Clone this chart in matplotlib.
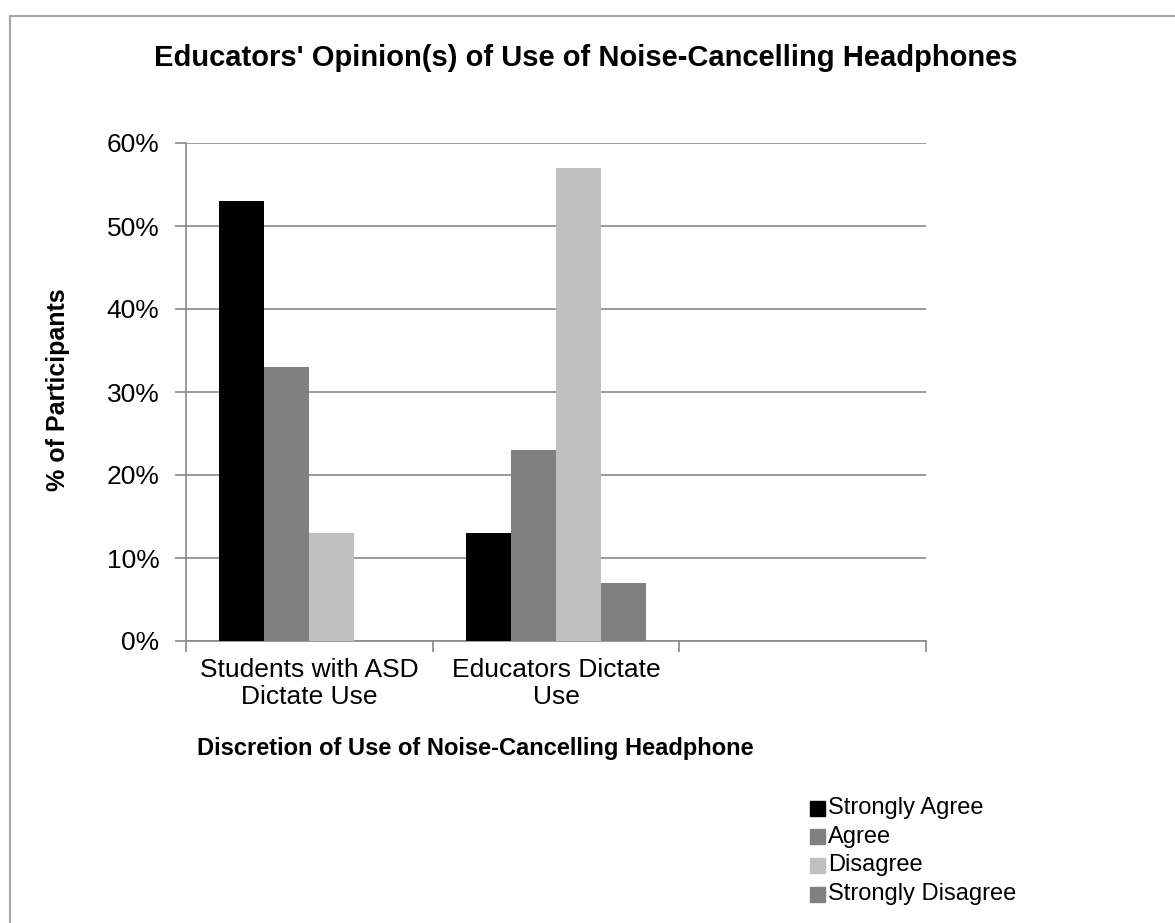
import numpy as np
import matplotlib.pyplot as plt
from matplotlib.patches import Rectangle

plt.rcParams['font.family'] = ['Liberation Sans', 'DejaVu Sans']

# survey results, % of participants
categories = ['Students with ASD\nDictate Use', 'Educators Dictate\nUse', '']
series = ['Strongly Agree', 'Agree', 'Disagree', 'Strongly Disagree']
strongly_agree = [53, 13, 0]
agree = [33, 23, 0]
disagree = [13, 57, 0]
strongly_disagree = [0, 7, 0]
colors = ['#000000', '#808080', '#c0c0c0', '#808080']

W, H = 1175, 923
fig = plt.figure(figsize=(W / 100, H / 100), dpi=100)

# outer chart frame (runs off the right/bottom edge)
fig.patches.append(Rectangle((10 / W, -0.1), 1.2, 1 - 16 / H + 0.1, transform=fig.transFigure,
                             fill=False, edgecolor='#a6a6a6', linewidth=1.5))

ax = fig.add_axes([186 / W, (H - 641) / H, 740 / W, 498 / H])

x = np.arange(len(categories))
w = 45 / 247
vals = [strongly_agree, agree, disagree, strongly_disagree]
for i, (name, v) in enumerate(zip(series, vals)):
    ax.bar(x + (i - 1.5) * w, v, width=w, color=colors[i], label=name, zorder=3)

ax.set_xlim(-0.5, 2.5)
ax.set_ylim(0, 60)
ax.set_yticks(range(0, 61, 10))
ax.set_yticklabels(['%d%%' % t for t in range(0, 61, 10)], fontsize=19)
ax.yaxis.grid(True, color='#898989', linewidth=1.2, zorder=0)

ax.set_xticks(x)
ax.set_xticklabels(categories, fontsize=19)
ax.set_xticks(np.arange(-0.5, 2.6, 1), minor=True)
ax.tick_params(axis='x', which='major', length=0, pad=12)
ax.tick_params(axis='x', which='minor', length=8, color='#898989', width=1.2)
ax.tick_params(axis='y', length=8, color='#898989', width=1.2, pad=11)

for s in ['top', 'right']:
    ax.spines[s].set_visible(False)
for s in ['left', 'bottom']:
    ax.spines[s].set_color('#898989')
    ax.spines[s].set_linewidth(1.2)

fig.text(586 / W, 1 - 58 / H, "Educators' Opinion(s) of Use of Noise-Cancelling Headphones",
         ha='center', va='center', fontsize=21, fontweight='bold')
fig.text(58 / W, 1 - 390 / H, '% of Participants', rotation=90, ha='center', va='center',
         fontsize=18, fontweight='bold')
fig.text(197 / W, 1 - 748 / H, 'Discretion of Use of Noise-Cancelling Headphone',
         ha='left', va='center', fontsize=17, fontweight='bold')

# legend: small squares stacked under the plot
for i, name in enumerate(series):
    yc = 808 + i * 28.7
    fig.patches.append(Rectangle((810 / W, 1 - (yc + 7.5) / H), 15 / W, 15 / H,
                                 transform=fig.transFigure, color=colors[i]))
    fig.text(828 / W, 1 - yc / H, name, ha='left', va='center', fontsize=17)

fig.savefig('out.png', dpi=100)
